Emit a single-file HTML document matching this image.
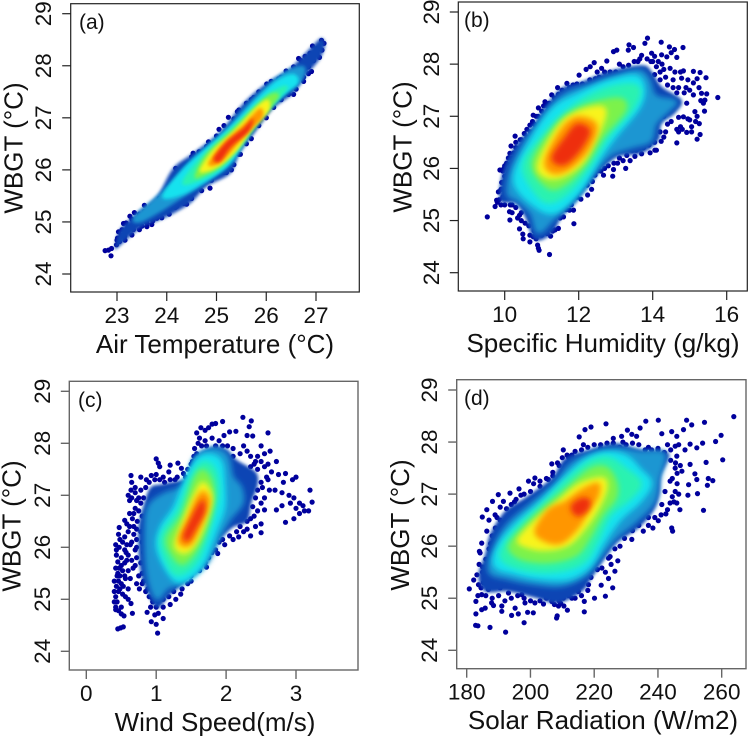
<!DOCTYPE html>
<html lang="en">
<head>
<meta charset="utf-8">
<title>WBGT scatter density panels</title>
<style>
html,body{margin:0;padding:0;background:#fff;width:749px;height:736px;overflow:hidden}
svg{display:block}
text{font-family:"Liberation Sans",Arial,sans-serif;fill:#111}
.title{font-size:26px}
.tick{font-size:22.5px}
.tag{font-size:21px}
</style>
</head>
<body>
<svg id="chart" width="749" height="736" viewBox="0 0 749 736" xmlns="http://www.w3.org/2000/svg">
<defs>
<filter id="blurEdge" filterUnits="userSpaceOnUse" x="0" y="0" width="749" height="736"><feGaussianBlur stdDeviation="1.5"/></filter>
<filter id="blurBand" filterUnits="userSpaceOnUse" x="0" y="0" width="749" height="736"><feGaussianBlur stdDeviation="3"/></filter>
<filter id="blurThin" filterUnits="userSpaceOnUse" x="0" y="0" width="749" height="736"><feGaussianBlur stdDeviation="1.8"/></filter>
</defs>
<g id="panel-a"></g>
<g id="panel-b"></g>
<g id="panel-c"></g>
<g id="panel-d"></g>

<text class="title" x="215" y="353" text-anchor="middle">Air Temperature (°C)</text>
<text class="title" text-anchor="middle" transform="translate(22.7 148) rotate(-90)">WBGT (°C)</text>
<text class="tag" x="79" y="29">(a)</text>

<text class="title" x="603" y="352" text-anchor="middle">Specific Humidity (g/kg)</text>
<text class="title" text-anchor="middle" transform="translate(411.7 147) rotate(-90)">WBGT (°C)</text>
<text class="tag" x="464" y="27">(b)</text>

<text class="title" x="215" y="731" text-anchor="middle">Wind Speed(m/s)</text>
<text class="title" text-anchor="middle" transform="translate(20.7 526) rotate(-90)">WBGT (°C)</text>
<text class="tag" x="78" y="407">(c)</text>

<text class="title" x="603" y="729" text-anchor="middle">Solar Radiation (W/m2)</text>
<text class="title" text-anchor="middle" transform="translate(409 525) rotate(-90)">WBGT (°C)</text>
<text class="tag" x="464" y="405">(d)</text>
</svg>

<script>
const yTickValues = [24,25,26,27,28,29];
const xTicksA = [23,24,25,26,27];
const xTicksB = [10,12,14,16];
const xTicksC = [0,1,2,3];
const xTicksD = [180,200,220,240,260];

const levelColors = ['#0c44b4','#1e96d2','#12e2ee','#2af2b0','#7cf24c','#f8f41c','#ff9606','#ee2e10'];

const dotsA = [[22.76,24.45],[22.83,24.46],[22.89,24.49],[22.88,24.35],[22.99,24.56],[23.01,24.69],[23.16,24.65],[23.03,24.81],[23.13,24.97],[23.26,25.11],[23.33,24.85],[23.6,24.91],[23.08,24.75],[23.2,24.85],[23.18,24.98],[23.42,24.98],[23.5,24.92],[23.72,25.02],[23.35,25.18],[23.55,25.32],[24.87,25.65],[25.3,26.0],[24.18,26.03],[24.53,26.32],[27.11,28.49],[27.16,28.43],[27.01,28.33],[26.93,28.38],[26.88,28.24],[27.07,28.16],[27.12,28.3],[27.02,28.22],[26.91,27.89],[26.65,28.14],[26.8,28.08],[26.85,27.98],[26.75,27.78],[26.01,27.65],[25.75,27.39],[25.24,27.01],[24.84,26.54],[24.4,25.34],[24.17,25.28],[23.8,25.07],[26.3,27.78],[26.55,27.45],[25.42,27.12],[25.05,26.78],[25.2,25.95],[25.48,26.3],[23.0,24.65],[23.1,24.85],[23.22,24.9],[23.3,25.05],[23.45,25.15],[23.55,25.2],[23.7,25.3],[23.85,25.45],[23.95,25.55],[24.05,25.7],[24.15,25.85],[24.25,25.95],[24.4,26.1],[24.5,26.25],[24.65,26.35],[24.8,26.45],[25.0,26.65],[25.15,26.85],[25.35,26.98],[25.45,27.15],[25.6,27.28],[25.7,27.35],[25.85,27.5],[26.1,27.7],[26.25,27.75],[26.4,27.9],[26.55,27.98],[26.7,28.1],[26.78,28.18],[26.95,28.1],[26.85,27.85],[26.75,27.7],[26.6,27.55],[26.45,27.45],[26.3,27.35],[26.15,27.2],[26.0,27.0],[25.85,26.85],[25.7,26.6],[25.6,26.5],[25.45,26.3],[25.35,26.1],[25.15,25.95],[25.05,25.95],[24.9,25.8],[24.7,25.6],[24.5,25.45],[24.35,25.35],[24.2,25.3],[24.05,25.15],[23.9,25.08],[23.7,24.95],[23.6,24.98],[23.45,24.85],[23.3,24.75],[23.15,24.72],[23.05,24.62]];

const dotsB = [[9.53,25.07],[11.21,24.35],[11.87,24.94],[10.91,24.47],[10.89,24.53],[10.93,24.43],[10.68,24.59],[10.5,24.65],[10.49,24.74],[10.4,24.84],[10.14,25.01],[10.13,25.17],[9.74,25.27],[9.78,25.39],[9.83,25.55],[9.92,25.73],[9.87,25.97],[10.05,26.1],[10.14,26.29],[10.17,26.43],[10.28,26.62],[10.53,26.67],[10.68,26.83],[10.77,27.02],[10.91,27.16],[11.09,27.28],[11.27,27.41],[11.43,27.55],[11.68,27.63],[12.01,27.79],[12.31,27.95],[12.42,28.03],[12.62,27.92],[12.76,28.06],[12.94,28.24],[13.03,28.27],[13.36,28.37],[13.48,28.32],[13.34,28.27],[13.7,28.17],[13.79,28.4],[13.86,28.5],[14.23,28.42],[14.45,28.33],[14.59,28.28],[14.82,28.32],[14.5,28.22],[14.65,28.13],[13.97,28.21],[14.24,28.18],[14.38,28.14],[14.15,28.05],[14.47,27.92],[14.83,27.87],[15.1,27.86],[15.28,27.84],[15.44,27.74],[15.1,27.64],[14.78,27.73],[15.46,27.43],[15.32,27.44],[15.76,27.36],[15.41,27.31],[15.37,27.25],[15.1,27.41],[14.92,27.25],[15.4,27.1],[15.14,27.09],[14.83,26.99],[15.0,26.93],[15.26,26.86],[15.16,26.9],[14.65,26.75],[14.92,26.69],[15.28,26.65],[15.2,26.56],[14.65,26.49],[14.23,26.52],[14.06,26.35],[13.93,26.3],[13.7,26.28],[13.52,26.23],[13.39,26.15],[13.27,26.0],[12.94,25.98],[12.92,25.85],[12.67,25.87],[12.44,25.87],[12.37,25.75],[12.23,25.68],[12.24,25.49],[12.06,25.41],[11.9,25.55],[11.86,25.2],[11.66,25.21],[11.59,25.07],[11.36,24.82],[11.24,24.7],[11.07,24.79],[10.77,24.69],[10.68,24.72],[14.3,27.9],[14.2,27.7],[14.55,27.7],[14.7,27.55],[14.4,27.6],[14.9,27.55],[14.0,28.05],[13.6,28.05],[13.1,28.0],[12.2,27.9],[12.5,27.85],[14.3,27.0],[14.4,26.85],[14.75,26.8],[14.95,26.95],[15.05,26.8],[14.7,26.98],[15.0,27.5],[9.85,25.4],[10.0,25.75],[9.95,25.95],[10.0,26.05],[10.2,25.3],[10.4,25.1],[10.45,25.0],[10.3,26.4],[10.45,26.55],[10.6,26.75],[10.85,27.0],[11.15,27.2],[13.05,26.1],[13.2,26.15],[12.8,26.05],[12.6,25.95],[13.45,26.35],[13.75,26.4],[14.05,26.5],[9.8,25.35],[9.9,25.3],[9.95,25.45],[10.05,25.5],[9.9,25.6],[10.0,25.85],[10.1,25.9],[9.98,26.0],[10.2,26.2],[10.1,26.2],[10.25,26.3],[10.35,26.38],[10.3,26.5],[10.42,26.55],[10.6,26.6],[10.55,26.5],[10.7,26.7],[10.8,26.85],[10.75,26.9],[10.9,27.0],[11.0,27.1],[11.05,27.2],[11.2,27.25],[11.35,27.35],[11.45,27.42],[11.55,27.5],[11.75,27.55],[11.85,27.6],[11.95,27.62],[12.1,27.62],[12.3,27.7],[12.45,27.72],[12.55,27.75],[12.7,27.85],[12.85,27.85],[13.0,27.85],[13.2,27.95],[13.35,27.98],[13.5,28.05],[13.65,28.1],[13.85,28.1],[13.95,28.05],[14.05,28.15],[14.1,27.95],[14.25,28.0],[14.2,27.85],[14.35,27.75],[14.05,27.8],[14.6,27.85],[14.75,27.85],[14.95,27.7],[15.2,27.72],[15.25,27.55],[14.85,27.45],[14.65,27.45],[14.55,27.55],[15.3,27.3],[15.2,27.0],[15.05,26.7],[14.8,26.75],[14.7,26.7],[14.5,26.9],[14.35,26.7],[14.3,26.6],[14.2,26.7],[14.1,26.35],[13.9,26.45],[13.55,26.35],[13.3,26.25],[13.1,26.2],[12.95,26.1],[12.7,26.0],[12.5,25.95],[12.3,25.85],[12.35,25.6],[12.1,25.65],[11.95,25.45],[11.8,25.3],[11.75,25.2],[11.5,25.05],[11.45,24.85],[11.3,24.8],[11.15,24.75],[11.0,24.72],[10.85,24.65],[10.8,24.8],[10.65,24.9],[10.55,24.95],[10.35,25.05],[10.2,25.15],[10.3,25.25],[10.15,25.3],[10.0,25.3],[10.45,25.15]];

const dotsC = [[0.42,24.85],[0.44,24.95],[0.42,25.05],[0.46,25.15],[0.43,25.25],[0.46,25.35],[0.5,25.3],[0.53,25.25],[0.44,25.45],[0.48,25.2],[0.46,24.78],[0.5,24.72],[0.54,24.68],[0.45,24.43],[0.49,24.45],[0.53,24.47],[0.42,25.6],[0.45,25.72],[0.43,25.85],[0.5,25.8],[0.55,25.7],[0.6,25.85],[0.42,26.05],[0.47,26.0],[0.52,26.1],[0.46,26.25],[0.47,26.38],[0.55,26.52],[0.55,26.2],[0.6,26.3],[0.65,26.1],[0.7,25.95],[0.72,26.15],[0.6,25.55],[0.67,25.6],[0.63,25.4],[0.56,25.05],[0.6,25.0],[0.64,24.92],[0.66,24.73],[0.72,25.3],[0.8,25.5],[0.72,25.8],[0.62,26.9],[0.64,27.1],[0.65,27.25],[0.64,27.38],[0.6,27.0],[0.66,26.55],[0.62,26.65],[0.7,26.75],[0.75,26.95],[0.78,27.35],[0.86,27.3],[0.93,27.38],[1.0,27.4],[0.8,26.6],[0.82,25.9],[1.0,27.7],[1.03,27.62],[1.05,27.55],[1.2,27.58],[1.18,27.45],[1.31,27.62],[1.36,27.52],[1.39,27.42],[1.1,27.35],[1.27,27.3],[1.54,27.75],[1.55,27.9],[1.6,28.0],[1.62,28.1],[1.58,28.2],[1.64,28.3],[1.7,28.25],[1.75,28.3],[1.8,28.37],[1.85,28.38],[1.95,28.42],[1.7,28.05],[1.8,28.1],[1.9,28.05],[1.97,28.15],[2.05,28.22],[2.14,28.23],[2.24,28.5],[2.36,28.43],[2.33,28.32],[2.3,28.15],[2.38,28.14],[2.6,28.2],[2.25,27.95],[2.3,27.85],[2.5,27.95],[2.45,27.75],[2.55,27.8],[2.63,27.85],[2.1,27.9],[2.72,27.65],[2.55,27.55],[2.65,27.45],[2.75,27.4],[2.85,27.42],[2.82,27.25],[2.95,27.3],[3.0,27.35],[2.7,27.1],[2.8,27.05],[2.62,27.1],[2.9,27.0],[2.97,26.95],[3.05,26.85],[3.2,27.1],[3.23,26.87],[3.1,26.8],[3.0,26.75],[2.92,26.85],[2.8,26.8],[2.72,26.72],[3.05,26.65],[3.18,26.7],[3.12,26.7],[2.97,26.55],[2.85,26.48],[2.55,26.72],[2.45,26.7],[2.5,26.45],[2.35,26.55],[2.5,26.28],[2.35,26.22],[2.25,26.3],[2.1,26.15],[2.18,26.2],[1.98,26.05],[1.9,26.1],[1.85,25.95],[1.8,25.9],[1.7,25.7],[1.55,25.6],[1.5,25.45],[1.37,25.2],[1.35,25.1],[1.28,25.0],[1.2,24.9],[1.1,24.63],[1.03,24.73],[1.0,24.52],[0.93,24.57],[1.02,24.35],[0.87,24.75],[0.92,24.85],[0.98,24.7],[1.1,25.0],[1.25,25.15],[0.48,25.45],[0.52,25.55],[0.47,25.6],[0.57,25.9],[0.63,26.05],[0.68,26.4],[0.73,26.5],[0.78,27.1],[0.7,27.15],[0.58,26.05],[0.76,25.2],[0.85,25.15],[0.9,25.05],[0.95,24.95],[0.8,25.3],[2.4,27.6],[2.6,27.3],[2.45,27.1],[2.55,26.95],[2.42,26.4],[2.3,26.35],[0.45,25.5],[0.4,25.15],[0.4,25.35],[0.5,25.65],[0.55,25.45],[0.58,25.75],[0.65,25.75],[0.7,25.65],[0.75,25.45],[0.78,25.7],[0.8,26.1],[0.68,26.25],[0.72,26.35],[0.78,26.3],[0.62,26.4],[0.58,26.45],[0.68,26.65],[0.75,26.7],[0.78,26.85],[0.72,26.9],[0.65,26.95],[0.7,27.05],[0.82,26.95],[0.85,27.15],[0.9,27.25],[0.98,27.3],[1.05,27.3],[1.12,27.25],[1.2,27.3],[1.3,27.35],[1.42,27.35],[1.45,27.5],[1.5,27.6],[1.52,27.65],[1.58,27.8],[1.65,27.95],[1.72,27.95],[1.85,27.95],[1.95,27.95],[2.02,27.95],[2.1,27.75],[2.2,27.8],[2.35,27.75],[2.42,27.65],[2.5,27.65],[2.45,27.5],[2.35,27.55],[2.6,27.6],[2.58,27.35],[2.5,27.25],[2.52,27.15],[2.42,26.95],[2.5,26.85],[2.38,26.78],[2.4,26.6],[2.3,26.5],[2.2,26.4],[2.15,26.3],[2.05,26.22],[1.95,26.15],[1.88,25.88],[1.75,25.8],[1.72,25.62],[1.62,25.55],[1.5,25.35],[1.45,25.3],[1.25,25.25],[1.18,25.05],[1.1,24.85],[1.0,24.85],[0.95,25.0],[0.88,25.2],[0.82,25.35],[0.85,25.55],[0.4,24.95],[0.42,24.8],[0.52,25.1],[0.5,24.85],[0.56,25.4],[0.6,25.2],[0.43,25.95],[0.48,26.15],[0.55,25.95],[0.72,26.0]];

const dotsD = [[180.8,25.18],[182.2,25.35],[183.2,25.45],[182.9,24.94],[182.9,24.7],[182.8,24.48],[183.5,24.47],[187.3,24.44],[192.2,24.35],[198.0,24.53],[208.2,24.62],[208.4,24.66],[211.6,24.77],[216.9,24.74],[216.9,24.94],[220.1,25.0],[223.5,25.04],[225.8,25.2],[222.2,25.25],[224.5,25.38],[226.5,25.52],[222.4,25.58],[225.3,25.65],[227.4,25.72],[224.5,25.77],[183.9,25.65],[184.2,25.87],[184.7,26.06],[186.3,26.29],[184.9,26.56],[186.3,26.7],[188.1,26.86],[189.9,26.99],[188.9,26.6],[191.5,26.86],[193.6,27.02],[196.4,27.1],[199.4,27.25],[201.4,27.31],[205.6,27.28],[206.7,27.58],[210.3,27.85],[214,27.82],[215.3,28.1],[216.6,27.95],[217.1,28.24],[219,28.29],[223.7,28.35],[226,28.07],[228.6,28.11],[230.4,28.23],[231.8,28.15],[233.3,28.11],[234.4,28.27],[236.2,28.4],[240.1,28.42],[241.2,28.16],[244.3,28.2],[245.9,28.11],[249,28.42],[250.6,28.33],[248,28.24],[254.6,28.38],[263.8,28.49],[259.8,28.13],[258.1,28.01],[254,27.98],[252.2,27.89],[250.1,27.96],[248.5,27.85],[260.3,27.66],[255.1,27.61],[250.1,27.57],[251.6,27.39],[252.2,27.28],[255.8,27.3],[257.2,27.26],[255.5,27.17],[249.6,27.18],[252.4,27.01],[249.4,26.98],[254.3,26.69],[246.9,26.7],[244.3,26.35],[244.6,26.29],[240.1,26.49],[238.4,26.35],[235.4,26.29],[231.8,26.13],[228.1,26.0],[245.4,27.5],[243.8,27.25],[245.4,27.05],[243.8,26.83],[245.9,26.83],[241.2,26.8],[242.2,27.05],[247.5,27.44],[245.9,27.73],[245.4,27.92],[191,24.85],[191,24.75],[194.1,24.67],[196.2,24.7],[199.1,24.73],[200.9,24.72],[195.2,24.81],[198.3,24.91],[201.4,24.91],[204.1,24.89],[206.7,24.94],[208.8,24.85],[210.3,25.0],[213,25.0],[215,25.13],[218.2,25.26],[184.7,24.78],[185.8,24.81],[187.8,24.91],[188.4,24.86],[186.8,25.17],[184.7,25.07],[183.7,25.26],[193.1,25.1],[197.3,25.07],[209.5,24.9],[207.5,24.88],[210.5,24.85],[190,26.2],[187.5,26.05],[186,25.75],[185,25.5],[189.5,26.55],[192.5,26.72],[195,26.85],[197,26.98],[203,27.15],[207,27.42],[209,27.55],[212,27.7],[222,27.95],[229,28.0],[237,27.9],[240,27.88],[243,27.95],[246.5,27.95],[247,27.55],[246,27.2],[244.5,26.95],[242.5,26.62],[237,26.55],[184,25.9],[185,25.6],[183.5,25.05],[185.2,25.3],[186,25.55],[187,25.95],[188,26.2],[187,26.5],[189,26.35],[190.5,26.5],[190.5,26.75],[193,26.5],[194,26.8],[195.5,26.9],[198,27.0],[200,27.05],[201,27.2],[203,27.25],[205,27.3],[207,27.35],[208.5,27.6],[210,27.7],[211.5,27.75],[213,27.75],[213.5,27.65],[216,27.85],[218,27.9],[220,27.95],[222,27.88],[224,27.98],[226,27.98],[228,27.9],[230,27.95],[232,27.98],[234,27.95],[236,27.85],[238,27.85],[240,27.85],[242,27.8],[244,27.85],[244,27.65],[245.5,27.6],[246,27.4],[244.5,27.3],[246.5,27.0],[245,26.85],[243,26.7],[241,26.6],[239,26.55],[237,26.4],[234,26.4],[232,26.3],[229.5,26.15],[226.5,25.95],[225,25.8],[223.5,25.5],[221,25.55],[219,25.4],[218,25.15],[216,25.05],[214,25.0],[212,25.05],[209,24.95],[207,24.98],[205,25.0],[203,24.95],[200,24.95],[198,25.0],[196,25.05],[194,25.0],[192,24.95],[190,25.05],[188,25.0],[186,25.05],[184.5,25.2],[187.5,25.25],[190.5,25.2]];

const levelsA = [
[[22.96,24.52],[23.06,24.85],[23.4,25.17],[23.8,25.49],[24.13,26.03],[24.53,26.32],[25.07,26.73],[25.54,27.28],[26.0,27.66],[26.48,27.95],[26.95,28.4],[27.11,28.53],[27.18,28.4],[27.08,28.14],[26.81,27.82],[26.54,27.47],[26.14,27.18],[25.81,26.77],[25.47,26.32],[25.27,25.93],[24.8,25.68],[24.47,25.36],[24.0,25.1],[23.53,24.91],[23.26,24.72],[22.99,24.49]],
[[23.36,25.1],[24.0,25.65],[24.53,26.19],[25.07,26.64],[25.54,27.15],[26.0,27.59],[26.41,27.89],[26.75,27.98],[26.71,27.73],[26.41,27.5],[26.08,27.21],[25.74,26.8],[25.41,26.38],[25.14,26.03],[24.74,25.74],[24.33,25.49],[23.86,25.2],[23.46,25.0]],
[[23.93,25.49],[24.33,26.0],[24.8,26.41],[25.34,26.86],[25.81,27.34],[26.21,27.69],[26.54,27.82],[26.61,27.66],[26.28,27.41],[25.94,27.09],[25.61,26.64],[25.27,26.13],[24.8,25.81],[24.33,25.55]],
[[24.33,25.74],[24.6,26.13],[25.0,26.51],[25.47,26.93],[25.94,27.37],[26.28,27.57],[26.41,27.57],[26.14,27.28],[25.81,26.96],[25.47,26.51],[25.14,26.09],[24.74,25.84]],
[[24.57,25.87],[24.8,26.29],[25.27,26.7],[25.74,27.15],[26.08,27.44],[26.24,27.41],[25.94,27.05],[25.54,26.57],[25.14,26.13],[24.8,25.93]],
[[24.67,26.0],[24.94,26.38],[25.34,26.73],[25.81,27.21],[26.04,27.34],[26.04,27.12],[25.74,26.83],[25.41,26.38],[25.07,26.09],[24.8,25.97]],
[[24.84,26.13],[25.14,26.51],[25.54,26.86],[25.87,27.18],[25.91,26.99],[25.54,26.64],[25.2,26.25],[24.97,26.09]],
[[24.94,26.22],[25.2,26.54],[25.54,26.8],[25.74,26.99],[25.64,26.73],[25.3,26.45],[25.07,26.16]]
];

const levelsB = [
[[9.87,25.39],[9.96,25.97],[10.28,26.42],[10.73,26.8],[11.09,27.18],[11.54,27.54],[12.08,27.66],[12.8,27.86],[13.7,27.98],[13.97,27.86],[14.24,27.57],[14.78,27.31],[14.6,27.06],[14.24,26.86],[14.15,26.54],[13.7,26.29],[13.07,26.23],[12.62,25.97],[12.26,25.65],[11.9,25.33],[11.54,25.07],[11.27,24.75],[10.82,24.63],[10.55,25.07],[10.28,25.33]],
[[10.1,25.52],[10.19,25.97],[10.5,26.42],[10.91,26.83],[11.27,27.18],[11.72,27.44],[12.26,27.57],[12.98,27.75],[13.61,27.86],[13.88,27.7],[14.06,27.38],[14.6,27.28],[14.42,27.12],[14.06,26.86],[13.93,26.54],[13.43,26.42],[12.89,26.29],[12.44,25.97],[12.08,25.65],[11.68,25.33],[11.27,25.01],[10.91,24.79],[10.73,25.14],[10.37,25.39]],
[[10.32,25.78],[10.73,26.48],[11.36,27.12],[12.08,27.41],[12.8,27.63],[13.52,27.73],[13.7,27.5],[13.57,27.18],[12.98,26.67],[12.53,26.23],[11.99,25.59],[11.36,25.2],[10.82,25.33]],
[[10.55,26.03],[11.0,26.54],[11.63,27.02],[12.26,27.34],[12.98,27.54],[13.57,27.54],[13.43,27.18],[12.8,26.67],[12.35,26.16],[11.81,25.65],[11.27,25.39],[10.91,25.52]],
[[10.77,26.1],[11.36,26.77],[11.9,27.09],[12.62,27.28],[13.16,27.31],[13.21,27.09],[12.62,26.61],[12.17,26.1],[11.63,25.71],[11.18,25.65]],
[[10.91,26.1],[11.45,26.8],[11.99,27.09],[12.62,27.18],[12.71,26.99],[12.44,26.54],[12.08,26.1],[11.54,25.84],[11.09,25.84]],
[[11.09,26.16],[11.54,26.77],[11.99,26.99],[12.49,26.83],[12.26,26.35],[11.72,25.97],[11.27,25.91]],
[[11.27,26.23],[11.63,26.61],[11.95,26.86],[12.31,26.74],[12.13,26.42],[11.72,26.1],[11.41,26.07]]
];

const levelsC = [
[[1.01,24.83],[0.85,25.22],[0.78,25.5],[0.75,25.9],[0.75,26.4],[0.82,26.8],[0.92,27.15],[1.1,27.22],[1.44,27.35],[1.53,27.72],[1.82,27.94],[2.01,27.88],[2.15,27.68],[2.42,27.45],[2.45,27.2],[2.36,26.85],[2.3,26.5],[2.08,26.37],[1.86,26.05],[1.72,25.67],[1.44,25.35],[1.2,25.09]],
[[1.01,25.03],[0.89,25.47],[0.86,26.24],[0.9,26.76],[1.1,27.0],[1.44,27.2],[1.58,27.72],[1.82,27.88],[2.01,27.75],[2.08,27.35],[2.2,27.15],[2.22,26.85],[2.05,26.56],[1.91,26.24],[1.72,25.73],[1.39,25.35],[1.15,25.22]],
[[1.2,25.54],[1.05,25.99],[1.1,26.37],[1.29,26.76],[1.48,27.4],[1.67,27.72],[1.89,27.65],[1.94,27.21],[1.94,26.76],[1.82,26.31],[1.63,25.67],[1.36,25.38]],
[[1.2,25.67],[1.1,26.18],[1.34,26.69],[1.51,27.27],[1.67,27.59],[1.82,27.46],[1.86,27.01],[1.75,26.44],[1.58,25.79],[1.34,25.51]],
[[1.24,25.86],[1.17,26.18],[1.39,26.63],[1.55,27.27],[1.67,27.46],[1.79,27.21],[1.77,26.69],[1.6,26.05],[1.39,25.7]],
[[1.27,26.05],[1.39,26.5],[1.55,27.01],[1.67,27.24],[1.79,26.98],[1.72,26.56],[1.55,26.05],[1.39,25.89]],
[[1.32,26.15],[1.46,26.56],[1.58,26.95],[1.68,27.08],[1.76,26.88],[1.65,26.47],[1.51,26.08],[1.39,26.02]],
[[1.38,26.21],[1.51,26.6],[1.6,26.82],[1.68,26.92],[1.7,26.69],[1.58,26.37],[1.46,26.12]]
];

const levelsD = [
[[183.7,25.45],[185.8,25.84],[187.3,26.22],[192.0,26.67],[198.3,26.93],[206.7,27.31],[210.9,27.69],[218.2,27.85],[226.5,27.98],[234.9,27.85],[243.3,27.79],[241,27.35],[240.5,26.99],[238.5,26.67],[233.9,26.35],[227.6,26.09],[223.4,25.77],[219.2,25.39],[216.1,25.13],[208.8,24.91],[201.4,25.01],[193.1,25.13],[185.8,25.13]],
[[187.3,25.52],[188.9,25.97],[193.1,26.41],[200.4,26.8],[207.7,27.18],[212.9,27.57],[220.3,27.79],[227.6,27.85],[234.9,27.79],[241.7,27.76],[240.1,27.31],[238.6,26.86],[232.8,26.48],[226.5,26.16],[221.3,25.77],[217.1,25.45],[209.8,25.26],[201.4,25.29],[193.1,25.39]],
[[189.4,25.65],[191.0,26.03],[196.2,26.41],[203.5,26.8],[210.9,27.25],[217.1,27.6],[223.4,27.75],[229.7,27.69],[233.9,27.44],[237.0,27.21],[233.9,26.89],[227.6,26.54],[222.4,26.09],[218.2,25.65],[211.9,25.42],[203.5,25.42],[195.2,25.52]],
[[191.5,25.77],[193.1,26.09],[198.3,26.45],[205.6,26.86],[212.9,27.31],[219.2,27.6],[224.5,27.66],[229.2,27.47],[233.9,27.21],[230.7,26.93],[224.5,26.61],[220.3,26.09],[216.1,25.71],[207.7,25.55],[198.3,25.58]],
[[193.6,25.97],[196.2,26.22],[203.5,26.67],[210.9,27.05],[218.2,27.44],[223.4,27.5],[226.5,27.25],[226.5,26.93],[222.4,26.61],[218.2,26.16],[214.0,25.84],[205.6,25.71],[197.3,25.77]],
[[196.2,26.13],[201.4,26.48],[208.8,26.86],[215.0,27.18],[222.4,27.31],[223.9,27.12],[221.3,26.73],[217.1,26.35],[211.9,26.03],[204.6,25.93],[198.3,26.0]],
[[201.4,26.29],[205.6,26.7],[210.9,26.86],[216.1,27.09],[221.3,27.21],[221.3,26.96],[218.2,26.67],[215.0,26.35],[209.8,26.06],[204.6,26.09]],
[[212.9,26.8],[216.1,26.93],[218.7,26.89],[218.2,26.7],[215.0,26.57],[212.9,26.67]]
];

const NS = 'http://www.w3.org/2000/svg';

function makeScale(d0, d1, p0, p1) {
  return function (v) { return p0 + (v - d0) * (p1 - p0) / (d1 - d0); };
}

function smoothPath(pts) {
  const n = pts.length;
  let d = 'M' + pts[0][0].toFixed(1) + ' ' + pts[0][1].toFixed(1);
  for (let i = 0; i < n; i++) {
    const p0 = pts[(i - 1 + n) % n], p1 = pts[i], p2 = pts[(i + 1) % n], p3 = pts[(i + 2) % n];
    const c1x = p1[0] + (p2[0] - p0[0]) / 6, c1y = p1[1] + (p2[1] - p0[1]) / 6;
    const c2x = p2[0] - (p3[0] - p1[0]) / 6, c2y = p2[1] - (p3[1] - p1[1]) / 6;
    d += 'C' + c1x.toFixed(1) + ' ' + c1y.toFixed(1) + ' ' + c2x.toFixed(1) + ' ' + c2y.toFixed(1) + ' ' + p2[0].toFixed(1) + ' ' + p2[1].toFixed(1);
  }
  return d + 'Z';
}

function drawPanel(id, cfg, dots, levels, xTicks) {
  const g = document.getElementById(id);
  const X = makeScale(cfg.xd[0], cfg.xd[1], cfg.xp[0], cfg.xp[1]);
  const Y = makeScale(24, 29, cfg.yp[0], cfg.yp[1]);
  const grow = [0, 4, 7, 6, 4, 2, 1, 0];

  dots.forEach(function (pt) {
    const c = document.createElementNS(NS, 'circle');
    
    
    c.setAttribute('cx', X(pt[0]).toFixed(1));
    c.setAttribute('cy', Y(pt[1]).toFixed(1));
    c.setAttribute('r', '2.6');
    c.setAttribute('fill', '#00009c');
    g.appendChild(c);
  });

  levels.forEach(function (poly, i) {
    const p = document.createElementNS(NS, 'path');
    
    
    p.setAttribute('d', smoothPath(poly.map(function (q) { return [X(q[0]), Y(q[1])]; })));
    p.setAttribute('fill', levelColors[i]);
    p.setAttribute('stroke', levelColors[i]);
    p.setAttribute('stroke-width', cfg.thin ? grow[i] * 0.35 : grow[i]);
    p.setAttribute('stroke-linejoin', 'round');
    p.setAttribute('filter', i === 0 ? 'url(#blurEdge)' : (cfg.thin ? 'url(#blurThin)' : 'url(#blurBand)'));
    g.appendChild(p);
  });

  const box = document.createElementNS(NS, 'rect');
  
  
  box.setAttribute('x', cfg.box[0]);
  box.setAttribute('y', cfg.box[1]);
  box.setAttribute('width', cfg.box[2] - cfg.box[0]);
  box.setAttribute('height', cfg.box[3] - cfg.box[1]);
  box.setAttribute('fill', 'none');
  box.setAttribute('stroke', cfg.frame);
  box.setAttribute('stroke-width', cfg.frameW);
  g.appendChild(box);

  xTicks.forEach(function (v) {
    const t = document.createElementNS(NS, 'line');
    
    
    t.setAttribute('x1', X(v));
    t.setAttribute('x2', X(v));
    t.setAttribute('y1', cfg.box[3]);
    t.setAttribute('y2', cfg.box[3] + 9);
    t.setAttribute('stroke', cfg.frame);
    t.setAttribute('stroke-width', cfg.frameW);
    g.appendChild(t);
    const l = document.createElementNS(NS, 'text');
    
    
    l.setAttribute('class', 'tick');
    l.setAttribute('x', X(v));
    l.setAttribute('y', cfg.box[3] + 31);
    l.setAttribute('text-anchor', 'middle');
    l.textContent = String(v);
    g.appendChild(l);
  });

  yTickValues.forEach(function (v) {
    const t = document.createElementNS(NS, 'line');
    
    
    t.setAttribute('x1', cfg.box[0] - 8.5);
    t.setAttribute('x2', cfg.box[0]);
    t.setAttribute('y1', Y(v));
    t.setAttribute('y2', Y(v));
    t.setAttribute('stroke', cfg.frame);
    t.setAttribute('stroke-width', cfg.frameW);
    g.appendChild(t);
    const l = document.createElementNS(NS, 'text');
    
    
    l.setAttribute('class', 'tick');
    l.setAttribute('text-anchor', 'middle');
    l.setAttribute('transform', 'translate(' + (cfg.box[0] - 19.5) + ' ' + Y(v) + ') rotate(-90)');
    l.textContent = String(v);
    g.appendChild(l);
  });
}

drawPanel('panel-a', {xd:[23,27], xp:[117,316], yp:[274,13.7], box:[70.7,3.7,359.3,292], frame:'#222', frameW:1.2, thin:true}, dotsA, levelsA, xTicksA);
drawPanel('panel-b', {xd:[10,16], xp:[504.7,726.7], yp:[272.7,12], box:[458.3,2,747.3,291], frame:'#222', frameW:1.2}, dotsB, levelsB, xTicksB);
drawPanel('panel-c', {xd:[0,3], xp:[86.3,296], yp:[651.3,391.3], box:[69.3,381.3,358,670], frame:'#666', frameW:1.4}, dotsC, levelsC, xTicksC);
drawPanel('panel-d', {xd:[180,260], xp:[466.7,721.7], yp:[650.3,390], box:[456.7,379.7,746,668.7], frame:'#666', frameW:1.4}, dotsD, levelsD, xTicksD);
</script>
</body>
</html>
